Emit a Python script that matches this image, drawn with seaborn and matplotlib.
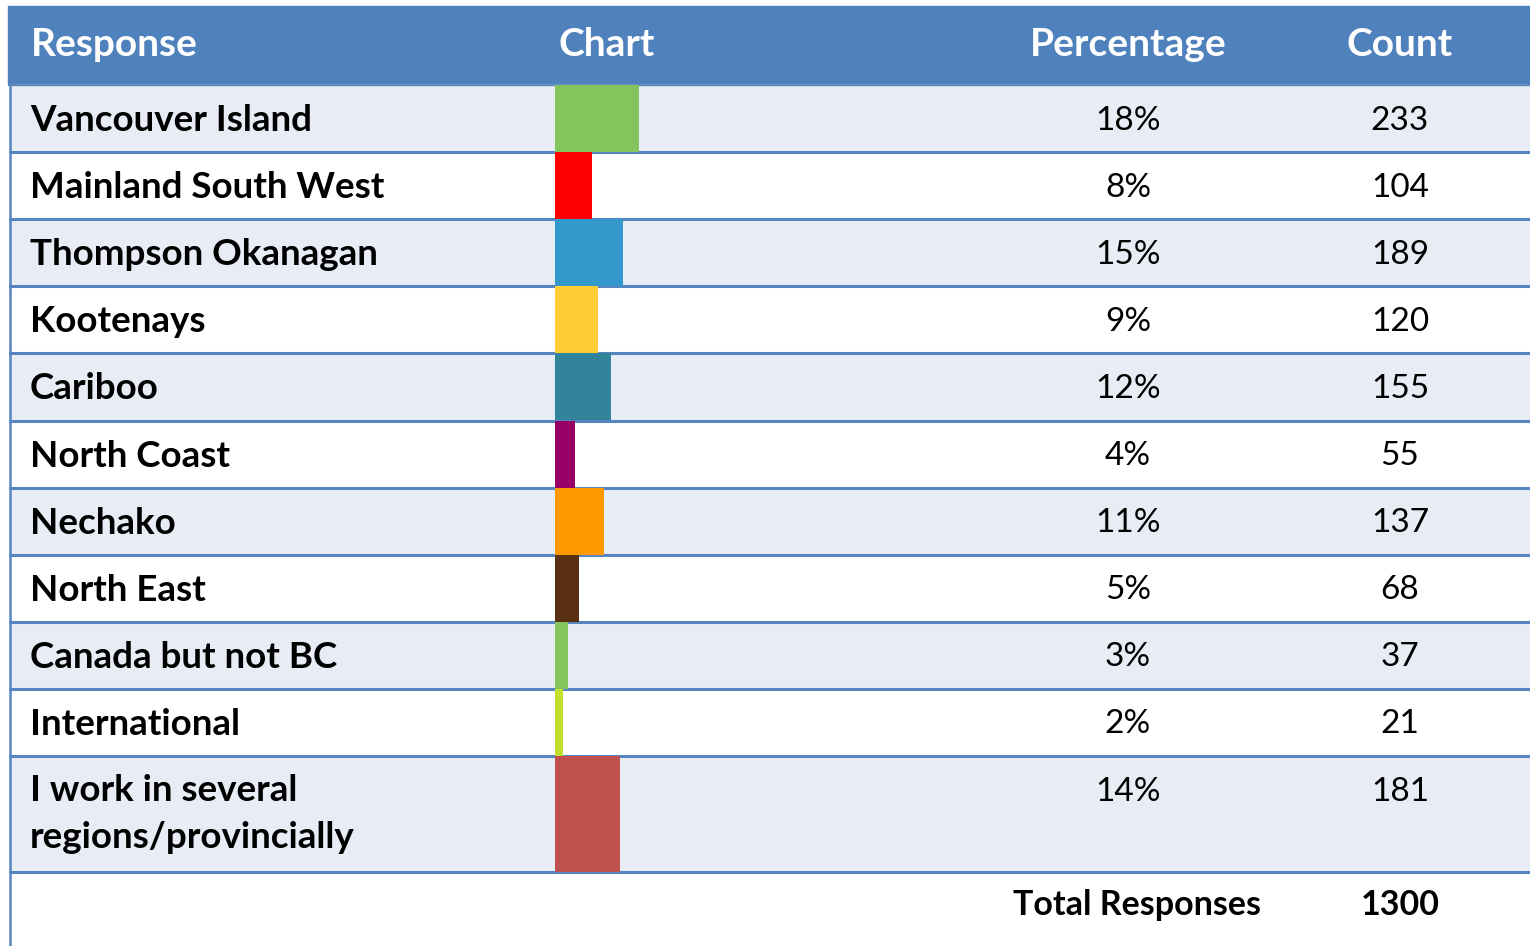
import matplotlib
matplotlib.use("Agg")
import matplotlib.pyplot as plt
import seaborn as sns
from matplotlib.patches import Rectangle

categories = ["Vancouver Island", "Mainland South West", "Thompson Okanagan", "Kootenays",
              "Cariboo", "North Coast", "Nechako", "North East", "Canada but not BC",
              "International", "I work in several\nregions/provincially"]
percentages = ["18%", "8%", "15%", "9%", "12%", "4%", "11%", "5%", "3%", "2%", "14%"]
counts = [233, 104, 189, 120, 155, 55, 137, 68, 37, 21, 181]
bar_colors = ["#84C45C", "#FF0000", "#3399CC", "#FFCC33", "#31849B", "#990066",
              "#FF9900", "#5A3012", "#84C45C", "#C0E02B", "#C0504D"]
headers = ["Response", "Chart", "Percentage", "Count"]
total_label = "Total Responses"
total_value = 1300

sns.set_theme(style="white")
plt.rcParams["font.family"] = ["Lato", "DejaVu Sans"]

W, H = 1530, 946
fig = plt.figure(figsize=(W / 100, H / 100), dpi=100)
ax = fig.add_axes([0, 0, 1, 1])
ax.set_xlim(0, W)
ax.set_ylim(H, 0)
ax.axis("off")

header_top, header_bot = 6, 85
row_h = 67.1
tops = [header_bot + i * row_h for i in range(len(categories))]
heights = [row_h] * (len(categories) - 1) + [116]
line_col = "#5685C1"
head_col = "#4F81BD"
shade = "#E8ECF4"

# header
ax.add_patch(Rectangle((8, header_top), W - 8, header_bot - header_top, color=head_col, zorder=1))
hx = [31, 559, 1128, 1400]
ha = ["left", "left", "center", "center"]
for t, x, a in zip(headers, hx, ha):
    ax.text(x, 45, t, color="white", fontsize=28, fontweight="bold", ha=a, va="center", zorder=5)

# rows
for i, (cat, pct, cnt) in enumerate(zip(categories, percentages, counts)):
    top, h = tops[i], heights[i]
    if i % 2 == 0:
        ax.add_patch(Rectangle((10, top), W - 10, h, color=shade, zorder=1))
    if i < len(categories) - 1:
        yc = top + h / 2 + 2
        ax.text(30, yc, cat, fontsize=26.5, fontweight="bold", color="black", ha="left", va="center", zorder=5)
        ax.text(1128, yc, pct, fontsize=24, color="black", ha="center", va="center", zorder=5)
        ax.text(1400, yc, str(cnt), fontsize=24, color="black", ha="center", va="center", zorder=5)
    else:
        ax.text(30, top + 18, cat, fontsize=26.5, fontweight="bold", color="black", ha="left", va="top",
                linespacing=1.52, zorder=5)
        ax.text(1128, top + 36, pct, fontsize=24, color="black", ha="center", va="center", zorder=5)
        ax.text(1400, top + 36, str(cnt), fontsize=24, color="black", ha="center", va="center", zorder=5)

# bars in their own axes (x in counts)
px_per_count = 0.36
bx0 = 555
bax = fig.add_axes([bx0 / W, 0, (W - bx0) / W, 1])
bax.set_xlim(0, (W - bx0) / px_per_count)
bax.set_ylim(H, 0)
bax.axis("off")
bax.patch.set_alpha(0)
centers = [t + h / 2 for t, h in zip(tops, heights)]
bax.barh(centers, counts, height=heights, left=0, color=bar_colors, linewidth=0, zorder=2)

# row divider lines
for i in range(len(categories)):
    y = tops[i] + heights[i]
    ax.plot([10, W], [y, y], color=line_col, lw=2.2, zorder=6)
ax.plot([10, W], [header_bot, header_bot], color=line_col, lw=1.0, zorder=6)
ax.plot([10, 10], [header_bot, H], color=line_col, lw=1.8, zorder=6)

# total row
ty = 905
ax.text(1137, ty, total_label, fontsize=24.5, fontweight="bold", color="black", ha="center", va="center", zorder=5)
ax.text(1400, ty, str(total_value), fontsize=24.5, fontweight="bold", color="black", ha="center", va="center", zorder=5)

fig.savefig("out.png", dpi=100)
